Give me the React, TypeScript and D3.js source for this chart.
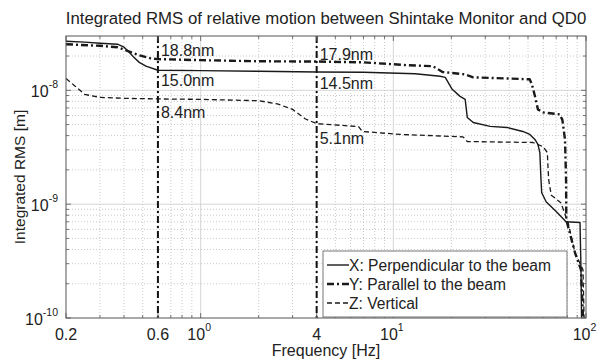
import * as d3 from "d3";

const W = 598;
const H = 362;
const FONT = "'Liberation Sans', Arial, sans-serif";

// X: Perpendicular to the beam
const xFreq = [0.2, 0.25, 0.3, 0.37, 0.4, 0.42, 0.45, 0.48, 0.52, 0.6, 1, 2, 4, 7, 13, 17.5, 18.6, 20.2, 22.2, 23.6, 24.2, 26, 31.8, 38.9, 47, 51.1, 54.3, 56.3, 57.6, 58.4, 58.9, 62.1, 70, 78.8, 93.1, 94.2, 94.8, 97.7, 100];
const xRms = [2.7e-8, 2.65e-8, 2.59e-8, 2.54e-8, 2.39e-8, 2.21e-8, 1.95e-8, 1.76e-8, 1.63e-8, 1.5e-8, 1.49e-8, 1.47e-8, 1.45e-8, 1.44e-8, 1.4e-8, 1.33e-8, 1.3e-8, 1.02e-8, 8.85e-9, 8.33e-9, 5.78e-9, 5.22e-9, 4.82e-9, 4.72e-9, 4.35e-9, 4.1e-9, 3.7e-9, 3.35e-9, 2.84e-9, 1.64e-9, 1.26e-9, 1.05e-9, 8.6e-10, 7.0e-10, 6.9e-10, 2.65e-10, 1e-10, 9e-11, 8e-11];

// Y: Parallel to the beam
const yFreq = [0.2, 0.3, 0.37, 0.42, 0.48, 0.55, 0.6, 1, 2, 4, 7, 12, 16, 18, 23.6, 26, 51, 52.4, 54.3, 56.3, 59.8, 73, 75.4, 77.8, 78.8, 79, 87.7, 94.2, 96.5, 100];
const yRms = [2.54e-8, 2.46e-8, 2.39e-8, 2.21e-8, 2.03e-8, 1.91e-8, 1.88e-8, 1.84e-8, 1.8e-8, 1.79e-8, 1.76e-8, 1.66e-8, 1.63e-8, 1.45e-8, 1.38e-8, 1.3e-8, 1.25e-8, 1.13e-8, 8.9e-9, 6.8e-9, 6.4e-9, 6.15e-9, 5.5e-9, 3.7e-9, 1.64e-9, 7.3e-10, 3.74e-10, 2.65e-10, 1e-10, 8e-11];

// Z: Vertical
const zFreq = [0.2, 0.22, 0.25, 0.3, 0.4, 0.6, 1, 2, 2.5, 3, 3.5, 4, 6.6, 6.9, 10.8, 23, 24.2, 53, 59.8, 63, 63.5, 64, 66, 74, 80.7, 87.7, 96.5, 97.7, 100];
const zRms = [1.27e-8, 1.11e-8, 9.2e-9, 8.68e-9, 8.5e-9, 8.4e-9, 8.33e-9, 8.1e-9, 7.6e-9, 6.8e-9, 5.6e-9, 5.1e-9, 4.8e-9, 4.35e-9, 4.1e-9, 3.9e-9, 3.55e-9, 3.48e-9, 3.2e-9, 2.84e-9, 2.1e-9, 1.64e-9, 1.2e-9, 1.03e-9, 6.9e-10, 3.74e-10, 2.65e-10, 1e-10, 8e-11];

const markerFreqs = [0.6, 4];
const notes = [
  { f: 0.6, v: 1.88e-8, text: "18.8nm", dy: -3 },
  { f: 0.6, v: 1.5e-8, text: "15.0nm", dy: 16 },
  { f: 0.6, v: 8.4e-9, text: "8.4nm", dy: 19 },
  { f: 4, v: 1.79e-8, text: "17.9nm", dy: -2 },
  { f: 4, v: 1.45e-8, text: "14.5nm", dy: 17 },
  { f: 4, v: 5.1e-9, text: "5.1nm", dy: 20 },
];

const xTicks = [0.2, 0.6, 1, 4, 10, 100];
const xTickLabels = ["0.2", "0.6", "10^0", "4", "10^1", "10^2"];
const yTicks = [1e-10, 1e-9, 1e-8];
const yTickLabels = ["10^-10", "10^-9", "10^-8"];

const legendItems = [
  { label: "X: Perpendicular to the beam", dash: "none", width: 1.4 },
  { label: "Y: Parallel to the beam", dash: "7,3,2,3", width: 2.4 },
  { label: "Z: Vertical", dash: "5,3", width: 1.3 },
];

const margin = { left: 66, right: 12, top: 36, bottom: 44 };

function Label({ x, y, text, anchor }: { x: number; y: number; text: string; anchor: string }) {
  const parts = text.split("^");
  if (parts.length === 1) {
    return (
      <text x={x} y={y} textAnchor={anchor} fontSize={16}>
        {text}
      </text>
    );
  }
  return (
    <text x={x} y={y} textAnchor={anchor} fontSize={16}>
      {parts[0]}
      <tspan fontSize={10.5} dy={-9}>{parts[1]}</tspan>
    </text>
  );
}

export default function App() {
  const x = d3.scaleLog().domain([0.2, 100]).range([margin.left, W - margin.right]);
  const y = d3.scaleLog().domain([1e-10, 3e-8]).range([H - margin.bottom, margin.top]);
  const [x0, x1] = x.range();
  const [y0, y1] = y.range();

  const line = d3
    .line<[number, number]>()
    .x((d) => x(d[0]))
    .y((d) => y(d[1]));

  const series = [
    { f: xFreq, v: xRms, dash: "none", width: 1.4 },
    { f: yFreq, v: yRms, dash: "7,3,2,3", width: 2.4 },
    { f: zFreq, v: zRms, dash: "5,3", width: 1.3 },
  ];

  const xMinor: number[] = [];
  [0.1, 1, 10].forEach((dec) => {
    for (let k = 2; k <= 9; k++) {
      const v = dec * k;
      if (v > 0.2 && v < 100) xMinor.push(v);
    }
  });
  const yMinor: number[] = [];
  [1e-10, 1e-9, 1e-8].forEach((dec) => {
    for (let k = 2; k <= 9; k++) {
      const v = dec * k;
      if (v <= 3e-8) yMinor.push(v);
    }
  });

  return (
    <svg width={W} height={H} style={{ position: "absolute", left: 0, top: 0, background: "#fff" }} fontFamily={FONT}>
      <defs>
        <clipPath id="plot">
          <rect x={x0} y={y1} width={x1 - x0} height={y0 - y1} />
        </clipPath>
      </defs>
      <text x={(x0 + x1) / 2} y={24} textAnchor="middle" fontSize={16.8} fill="#222">
        Integrated RMS of relative motion between Shintake Monitor and QD0
      </text>

      {/* grid */}
      <g stroke="#bbb" strokeWidth={0.8}>
        {xMinor.map((v) => (
          <line key={"xm" + v} x1={x(v)} x2={x(v)} y1={y1} y2={y0} strokeDasharray="1,2" />
        ))}
        {yMinor.map((v) => (
          <line key={"ym" + v} x1={x0} x2={x1} y1={y(v)} y2={y(v)} strokeDasharray="1,2" />
        ))}
        {[1, 10].map((v) => (
          <line key={"xM" + v} x1={x(v)} x2={x(v)} y1={y1} y2={y0} stroke="#ccc" />
        ))}
        {[1e-9, 1e-8].map((v) => (
          <line key={"yM" + v} x1={x0} x2={x1} y1={y(v)} y2={y(v)} stroke="#ccc" />
        ))}
      </g>

      {/* marker lines */}
      {markerFreqs.map((f) => (
        <line key={f} x1={x(f)} x2={x(f)} y1={y1} y2={y0} stroke="#111" strokeWidth={2} strokeDasharray="7,3,2,3" />
      ))}

      <g clipPath="url(#plot)" fill="none" stroke="#1a1a1a">
        {series.map((s, i) => (
          <path
            key={i}
            d={line(s.f.map((f, j) => [f, s.v[j]] as [number, number])) || ""}
            strokeWidth={s.width}
            strokeDasharray={s.dash}
            strokeLinejoin="round"
          />
        ))}
      </g>

      {notes.map((n) => (
        <text key={n.text} x={x(n.f) + 3} y={y(n.v) + n.dy} fontSize={16} fill="#222">
          {n.text}
        </text>
      ))}

      {/* ticks */}
      <g stroke="#555" strokeWidth={0.8}>
        {xTicks.map((v) => (
          <g key={"xt" + v}>
            <line x1={x(v)} x2={x(v)} y1={y0} y2={y0 - 5} />
            <line x1={x(v)} x2={x(v)} y1={y1} y2={y1 + 5} />
          </g>
        ))}
        {xMinor.map((v) => (
          <g key={"xmt" + v}>
            <line x1={x(v)} x2={x(v)} y1={y0} y2={y0 - 3} />
            <line x1={x(v)} x2={x(v)} y1={y1} y2={y1 + 3} />
          </g>
        ))}
        {yTicks.concat(yMinor).map((v, i) => (
          <g key={"yt" + i}>
            <line x1={x0} x2={x0 + (i < 3 ? 5 : 3)} y1={y(v)} y2={y(v)} />
            <line x1={x1} x2={x1 - (i < 3 ? 5 : 3)} y1={y(v)} y2={y(v)} />
          </g>
        ))}
      </g>

      {/* legend */}
      <g>
        <rect x={323} y={251} width={244} height={66} fill="#fff" stroke="#777" strokeWidth={1} />
        {legendItems.map((it, i) => (
          <g key={it.label}>
            <line x1={327} x2={349} y1={265 + i * 19} y2={265 + i * 19} stroke="#1a1a1a" strokeWidth={it.width} strokeDasharray={it.dash} />
            <text x={349} y={271 + i * 19} fontSize={15.6} fill="#222">
              {it.label}
            </text>
          </g>
        ))}
      </g>

      <rect x={x0} y={y1} width={x1 - x0} height={y0 - y1} fill="none" stroke="#555" strokeWidth={1} />

      {/* tick labels */}
      <g fill="#222">
        {xTicks.map((v, i) => (
          <Label key={"xl" + v} x={x(v) - (xTickLabels[i].includes("^") ? 1.5 : 0)} y={340} text={xTickLabels[i]} anchor="middle" />
        ))}
        {yTicks.map((v, i) => (
          <Label key={"yl" + v} x={x0 - 8} y={y(v) + 6.5} text={yTickLabels[i]} anchor="end" />
        ))}
      </g>

      <text x={(x0 + x1) / 2} y={356} textAnchor="middle" fontSize={16} fill="#222">
        Frequency [Hz]
      </text>
      <text transform={`translate(25,${(y0 + y1) / 2}) rotate(-90)`} textAnchor="middle" fontSize={15.5} fill="#222">
        Integrated RMS [m]
      </text>
    </svg>
  );
}
